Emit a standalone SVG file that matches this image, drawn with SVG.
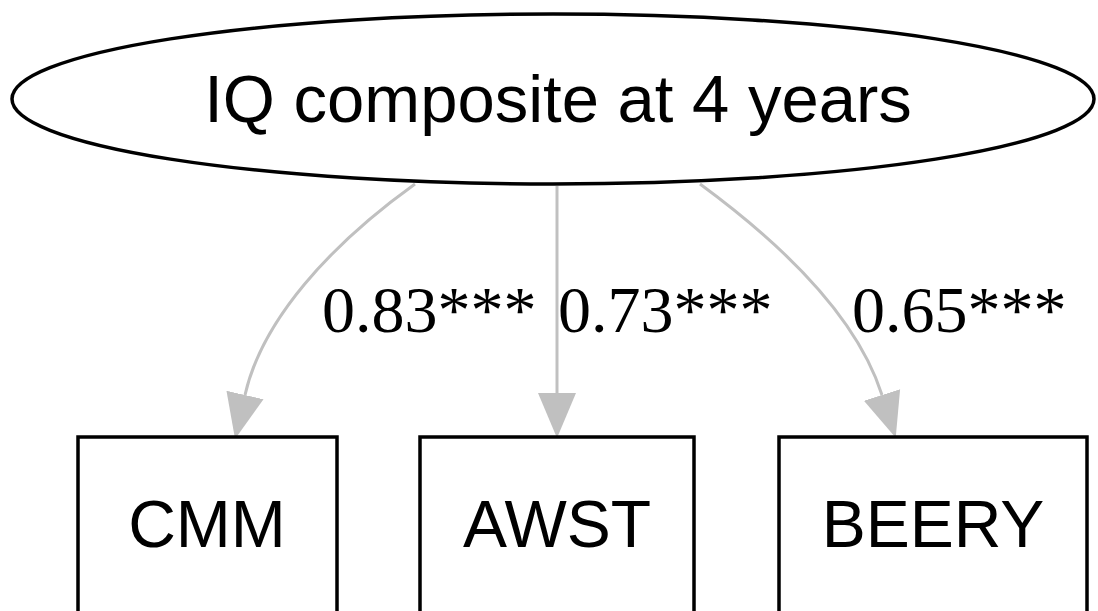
<svg xmlns="http://www.w3.org/2000/svg" width="1098" height="611" viewBox="0 0 1098 611">
<style>
.node{fill:#fff;stroke:#000;stroke-width:3.5}
.lbl{font-family:"Liberation Sans",Arial,sans-serif;font-size:66px;fill:#000;text-anchor:middle}
.elbl{font-family:"Liberation Serif","Times New Roman",serif;font-size:66px;fill:#000}
.edge{fill:none;stroke:#c0c0c0;stroke-width:3}
</style>
<defs>
<marker id="ah" markerUnits="userSpaceOnUse" markerWidth="50" markerHeight="44" viewBox="0 -22 50 44" refX="0" refY="0" orient="auto">
<path d="M0,-19 L45,0 L0,19 z" fill="#c0c0c0"/>
</marker>
</defs>
<rect width="1098" height="611" fill="#fff"/>
<g id="connectors">
<path class="edge" d="M415,184 C330,245 262,320 245,395" marker-end="url(#ah)"/>
<path class="edge" d="M557,186 L557,393" marker-end="url(#ah)"/>
<path class="edge" d="M700,184 C790,250 858,320 882,395" marker-end="url(#ah)"/>
<text class="elbl" x="322" y="332">0.83***</text>
<text class="elbl" x="558" y="332">0.73***</text>
<text class="elbl" x="852" y="332">0.65***</text>
</g>
<g id="iq">
<ellipse class="node" cx="553" cy="99" rx="541" ry="85"/>
<text class="lbl" x="558" y="122" style="font-size:67px">IQ composite at 4 years</text>
</g>
<g id="cmm">
<rect class="node" x="78" y="437" width="259" height="200"/>
<text class="lbl" x="207" y="547">CMM</text>
</g>
<g id="awst">
<rect class="node" x="420" y="437" width="274" height="200"/>
<text class="lbl" x="557" y="547">AWST</text>
</g>
<g id="beery">
<rect class="node" x="779" y="437" width="308" height="200"/>
<text class="lbl" x="933" y="547">BEERY</text>
</g>
</svg>
